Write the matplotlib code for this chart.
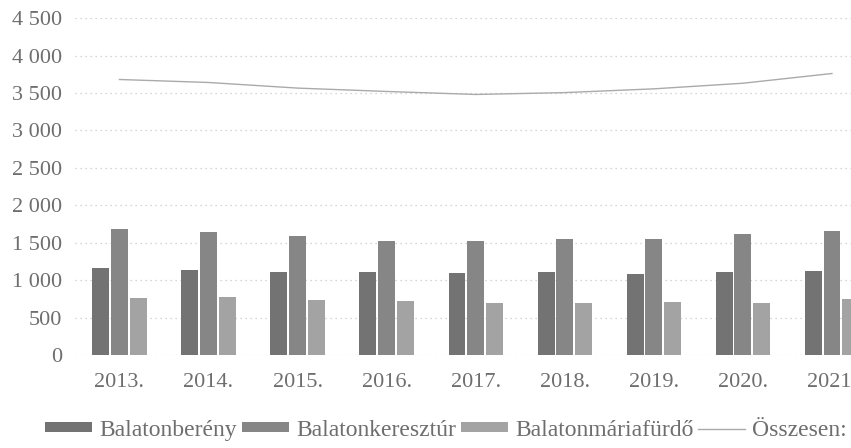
import matplotlib
matplotlib.use("Agg")
import matplotlib.pyplot as plt
from matplotlib.ticker import FuncFormatter, MultipleLocator
import numpy as np


years = ["2013.", "2014.", "2015.", "2016.", "2017.", "2018.", "2019.", "2020.", "2021."]

balatonbereny = [1160, 1140, 1110, 1105, 1095, 1110, 1085, 1110, 1120]
balatonkeresztur = [1680, 1640, 1590, 1525, 1520, 1545, 1555, 1610, 1660]
balatonmariafurdo = [757, 780, 735, 720, 700, 690, 705, 700, 745]
osszesen = [3680, 3640, 3565, 3520, 3480, 3505, 3555, 3630, 3760]

series_names = ["Balatonberény", "Balatonkeresztúr", "Balatonmáriafürdő"]
line_name = "Összesen:"

plt.rcParams.update({
    "font.family": ["Liberation Serif", "DejaVu Serif"],
    "font.size": 16,
})

text_color = "#6e6e6e"
bar_colors = ["#737373", "#868686", "#a3a3a3"]

fig = plt.figure(figsize=(8.51, 4.48), dpi=100)
# plot area runs past the right edge, like the cropped original
ax = fig.add_axes([0.088, 0.2076, 0.942, 0.752])

x = np.arange(len(years))
width = 0.19
offsets = [-0.21, 0.0, 0.21]

handles = []
for values, color, name, off in zip(
    [balatonbereny, balatonkeresztur, balatonmariafurdo],
    bar_colors, series_names, offsets,
):
    h = ax.bar(x + off, values, width=width, color=color, label=name, zorder=3)
    handles.append(h)

(line,) = ax.plot(x, osszesen, color="#aaaaaa", linewidth=1.0,
                  label=line_name, zorder=4)
handles.append(line)

ax.set_xlim(-0.5, len(years) - 0.5)
ax.set_ylim(0, 4500)
ax.yaxis.set_major_locator(MultipleLocator(500))
ax.yaxis.set_major_formatter(
    FuncFormatter(lambda v, _: f"{int(v):,}".replace(",", " "))
)
ax.set_xticks(x)
ax.set_xticklabels(years)

ax.grid(axis="y", color="#c8c8c8", linestyle=(0, (1, 3)), linewidth=0.9,
        zorder=0)
for side in ["top", "right", "left", "bottom"]:
    ax.spines[side].set_visible(False)
ax.tick_params(axis="both", length=0, colors=text_color, labelsize=16)
ax.tick_params(axis="x", pad=13)
ax.tick_params(axis="y", pad=9)

fig.legend(
    handles=handles,
    labels=series_names + [line_name],
    loc="center",
    bbox_to_anchor=(446 / 851, 18 / 448),
    ncol=4,
    frameon=False,
    fontsize=17,
    labelcolor=text_color,
    handlelength=2.0,
    handleheight=0.3,
    handletextpad=0.3,
    columnspacing=0.2,
)

fig.savefig("out.png", dpi=100)
